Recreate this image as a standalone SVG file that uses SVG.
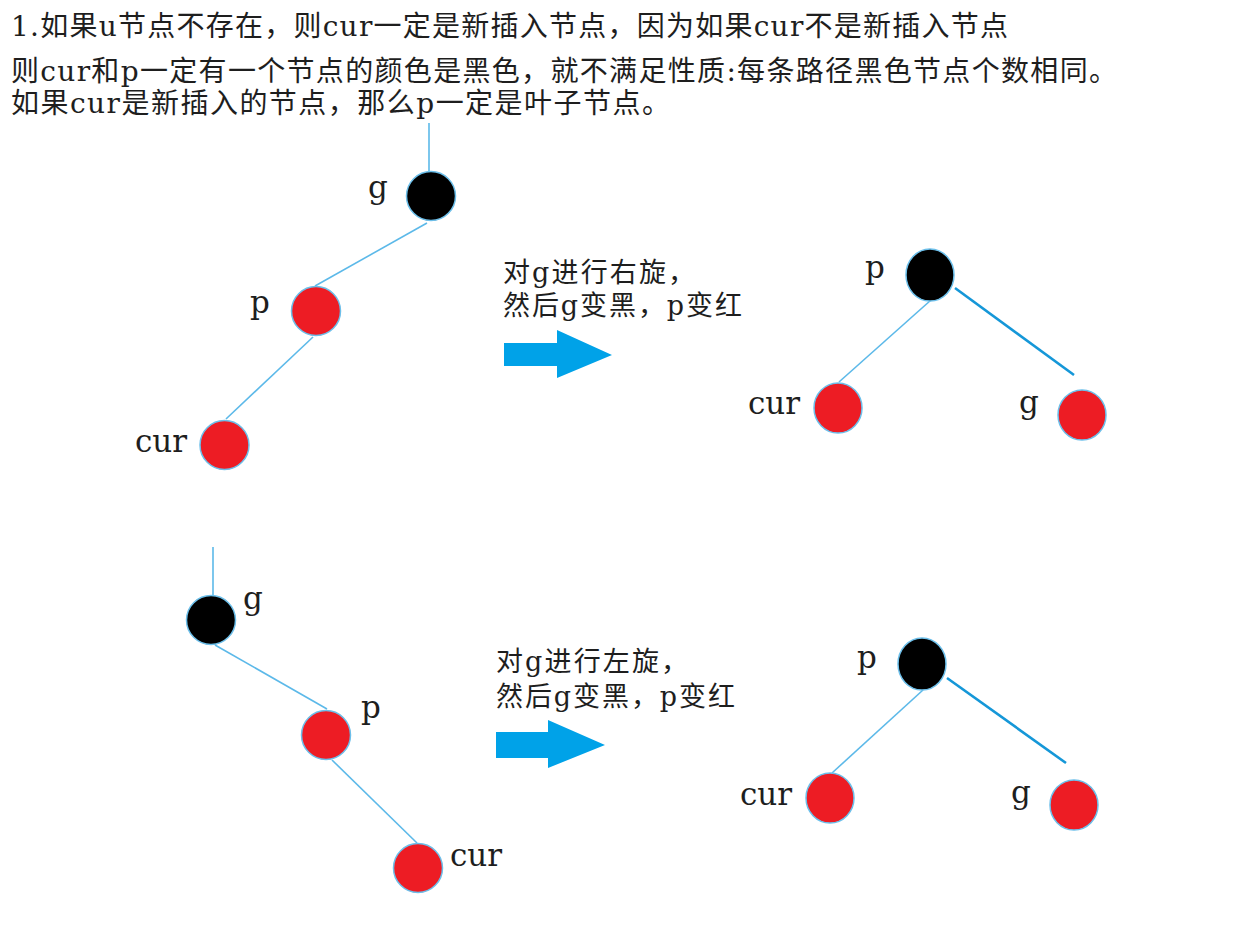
<svg xmlns="http://www.w3.org/2000/svg" width="1248" height="942" viewBox="0 0 1248 942">
<style>
.hdr{font-family:"DejaVu Serif","Noto Sans CJK SC",serif;font-size:28px;fill:#1e1e1e}
.note{font-family:"DejaVu Serif","Noto Sans CJK SC",serif;font-size:27px;fill:#1e1e1e}
.lbl{font-family:"DejaVu Serif","Liberation Serif",serif;font-size:31px;fill:#1e1e1e}
.blk{fill:#000;stroke:#6cbfea;stroke-width:1.5}
.red{fill:#ed1c24;stroke:#6cbfea;stroke-width:1.5}
.thin{stroke:#5cb9e9;stroke-width:1.6;fill:none}
.thick{stroke:#1597d8;stroke-width:2.6;fill:none}
.arrow{fill:#00a2e8}
</style>
<rect width="1248" height="942" fill="#fff"/>
<g id="header">
<text class="hdr" x="11" y="36" textLength="997" lengthAdjust="spacing">1.如果u节点不存在，则cur一定是新插入节点，因为如果cur不是新插入节点</text>
<text class="hdr" x="11" y="81" textLength="1106" lengthAdjust="spacing">则cur和p一定有一个节点的颜色是黑色，就不满足性质:每条路径黑色节点个数相同。</text>
<text class="hdr" x="11" y="113" textLength="659" lengthAdjust="spacing">如果cur是新插入的节点，那么p一定是叶子节点。</text>
</g>
<g id="connectors">
<line class="thin" x1="429" y1="123" x2="429" y2="172"/>
<line class="thin" x1="427" y1="223" x2="315" y2="286"/>
<line class="thin" x1="313" y1="337" x2="226" y2="419"/>
<line class="thin" x1="931" y1="300" x2="839" y2="382"/>
<line class="thick" x1="955" y1="288" x2="1074" y2="375"/>
<line class="thin" x1="213" y1="547" x2="213" y2="595"/>
<line class="thin" x1="215" y1="645" x2="327" y2="709"/>
<line class="thin" x1="332" y1="760" x2="417" y2="843"/>
<line class="thin" x1="923" y1="690" x2="832" y2="773"/>
<line class="thick" x1="947" y1="678" x2="1066" y2="763"/>
</g>
<g id="tree1-g"><circle class="blk" cx="431" cy="196" r="24.5"/><text class="lbl" x="368" y="198">g</text></g>
<g id="tree1-p"><circle class="red" cx="316" cy="311" r="24.5"/><text class="lbl" x="250" y="313">p</text></g>
<g id="tree1-cur"><circle class="red" cx="224.5" cy="445" r="24.5"/><text class="lbl" x="135" y="452">cur</text></g>
<g id="note1">
<text class="note" x="503" y="282" textLength="192" lengthAdjust="spacing">对g进行右旋，</text>
<text class="note" x="503" y="315" textLength="239" lengthAdjust="spacing">然后g变黑，p变红</text>
</g>
<g id="arrow1"><path class="arrow" d="M504,343 H557 V330 L612,355 L557,378 V366 H504 Z"/></g>
<g id="tree2-p"><ellipse class="blk" cx="930" cy="275" rx="24" ry="26"/><text class="lbl" x="865" y="278">p</text></g>
<g id="tree2-cur"><ellipse class="red" cx="838" cy="408" rx="24" ry="25"/><text class="lbl" x="748" y="414">cur</text></g>
<g id="tree2-g"><ellipse class="red" cx="1082" cy="415" rx="24" ry="25"/><text class="lbl" x="1019" y="413">g</text></g>
<g id="tree3-g"><circle class="blk" cx="211" cy="620" r="24.5"/><text class="lbl" x="243" y="609">g</text></g>
<g id="tree3-p"><circle class="red" cx="326" cy="735" r="24.5"/><text class="lbl" x="361" y="718">p</text></g>
<g id="tree3-cur"><circle class="red" cx="418" cy="868" r="24.5"/><text class="lbl" x="450" y="866">cur</text></g>
<g id="note2">
<text class="note" x="496" y="671" textLength="192" lengthAdjust="spacing">对g进行左旋，</text>
<text class="note" x="496" y="706" textLength="239" lengthAdjust="spacing">然后g变黑，p变红</text>
</g>
<g id="arrow2"><path class="arrow" d="M496,732 H548 V720 L605,745 L548,768 V758 H496 Z"/></g>
<g id="tree4-p"><ellipse class="blk" cx="922" cy="664" rx="24" ry="26"/><text class="lbl" x="857" y="668">p</text></g>
<g id="tree4-cur"><ellipse class="red" cx="830" cy="798" rx="24" ry="25"/><text class="lbl" x="740" y="805">cur</text></g>
<g id="tree4-g"><ellipse class="red" cx="1074" cy="805" rx="24" ry="25"/><text class="lbl" x="1011" y="803">g</text></g>
</svg>
